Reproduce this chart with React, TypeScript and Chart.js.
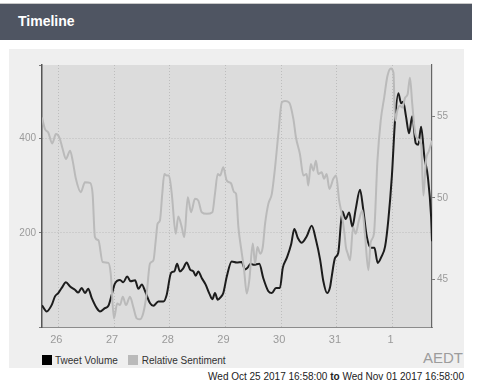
import React, { useEffect, useRef } from "react";
import { Chart, registerables } from "chart.js";

Chart.register(...registerables);

// x values are hours since Wed Oct 25 2017 16:58:00 (AEDT)
const RANGE_HOURS = 168;
const FIRST_MIDNIGHT_H = 7 + 2 / 60;
const dayLabels = ["26", "27", "28", "29", "30", "31", "1"];

const volumeHours = [
  0, 2.0, 4.2, 5.6, 7.0, 8.5, 10.3, 12.1, 14.2, 15.6,
  17.1, 18.5, 19.9, 21.4, 23.6, 25.0, 27.1, 28.6, 30.0, 31.4,
  33.6, 35.0, 36.7, 38.2, 40.1, 41.5, 43.0, 44.4, 46.5, 48.0,
  50.1, 52.3, 53.7, 55.6, 57.0, 58.2, 59.4, 60.9, 62.3, 63.8,
  65.2, 66.2, 67.3, 68.8, 70.5, 72.0, 73.4, 74.5, 75.7, 77.1,
  78.1, 79.6, 81.7, 83.9, 86.0, 87.5, 88.4, 89.9, 91.3, 93.6,
  95.3, 97.5, 99.0, 100.8, 102.5, 103.7, 105.4, 107.3, 108.7, 110.2,
  111.9, 114.0, 116.2, 118.0, 119.8, 121.2, 122.8, 124.1, 124.8, 126.2,
  127.6, 129.4, 130.8, 132.3, 133.7, 135.1, 137.0, 138.4, 139.9, 141.7,
  143.2, 144.6, 146.3, 147.8, 149.2, 150.7, 152.1, 153.5, 154.7, 155.6,
  156.8, 158.1, 159.5, 161.0, 162.1, 163.3, 164.7, 166.2, 167.6, 168.0,
];
const tweetVolume = [
  46, 33, 47, 65, 72, 83, 95, 86, 79, 73,
  83, 72, 81, 62, 40, 33, 40, 45, 68, 92,
  100, 95, 107, 97, 99, 81, 90, 76, 51, 45,
  54, 54, 68, 115, 118, 134, 118, 125, 137, 122,
  118, 109, 118, 104, 90, 72, 59, 72, 58, 64,
  72, 107, 139, 137, 138, 122, 125, 134, 132, 134,
  104, 76, 72, 83, 83, 125, 146, 175, 208, 189,
  179, 192, 215, 185, 143, 97, 72, 85, 107, 146,
  157, 245, 229, 243, 213, 249, 291, 249, 192, 168,
  168, 136, 150, 171, 228, 319, 440, 496, 475, 478,
  447, 411, 447, 390, 387, 425, 362, 319, 235, 182,
];

const sentimentHours = [
  0, 1.3, 2.7, 4.4, 6.0, 7.5, 8.9, 10.3, 12.1, 13.2,
  14.6, 16.7, 18.5, 20.7, 21.8, 22.8, 24.3, 26.1, 28.6, 29.6,
  31.0, 32.4, 33.6, 34.8, 36.2, 37.9, 39.3, 40.8, 42.2, 43.6,
  45.1, 46.5, 48.0, 49.0, 49.8, 50.8, 51.8, 52.7, 53.7, 54.7,
  55.9, 57.6, 58.7, 60.2, 61.3, 62.8, 64.2, 65.9, 67.3, 68.8,
  71.0, 73.4, 74.5, 75.7, 76.7, 78.1, 79.6, 81.4, 82.8, 83.6,
  84.6, 86.0, 87.0, 88.2, 89.3, 90.8, 91.8, 92.8, 94.0, 95.1,
  96.1, 97.5, 99.0, 100.4, 101.8, 103.3, 104.7, 106.5, 108.3, 109.4,
  111.1, 112.6, 114.0, 114.7, 115.8, 116.9, 118.0, 119.0, 120.5, 121.5,
  122.6, 123.8, 125.5, 126.7, 128.0, 129.1, 130.3, 130.9, 131.7, 132.7,
  134.0, 135.1, 136.5, 138.0, 139.1, 140.6, 141.6, 143.0, 144.5, 145.9,
  147.4, 148.8, 150.3, 151.4, 152.1, 153.2, 154.2, 155.2, 156.4, 157.5,
  158.5, 159.5, 160.7, 162.1, 163.3, 164.3, 165.4, 166.7, 168.0,
];
const relativeSentiment = [
  54.94, 54.23, 54.02, 53.35, 53.92, 53.71, 53.0, 52.39, 52.9, 52.29,
  51.17, 50.35, 50.96, 50.92, 50.25, 47.59, 47.39, 46.06, 46.0, 45.35,
  42.59, 43.51, 43.41, 43.92, 43.41, 43.92, 43.3, 42.59, 42.53, 42.9,
  44.12, 45.96, 46.16, 47.39, 48.41, 48.61, 50.25, 51.47, 51.37, 51.37,
  50.25, 47.8, 48.86, 48.2, 47.59, 50.04, 49.12, 49.94, 49.84, 49.12,
  49.02, 49.12, 50.25, 51.47, 51.37, 51.88, 51.06, 50.9, 50.35, 50.25,
  48.2, 46.67, 45.65, 44.12, 44.94, 47.19, 45.96, 46.98, 46.57, 46.98,
  48.41, 49.63, 50.25, 51.88, 53.92, 55.86, 55.96, 55.86, 54.84, 53.71,
  52.7, 51.37, 51.47, 50.76, 52.08, 51.67, 52.29, 51.47, 51.57, 51.17,
  51.47, 50.55, 51.17, 51.37, 49.84, 49.02, 47.8, 46.98, 46.57, 46.16,
  48.2, 47.8, 48.61, 49.22, 47.8, 45.55, 47.28, 47.8, 52.29, 54.74,
  56.16, 57.49, 57.96, 57.69, 54.74, 55.45, 55.66, 55.55, 56.16, 56.37,
  57.39, 55.76, 54.02, 53.61, 53.31, 50.14, 52.29, 52.9, 53.51,
];

const volumeTicks = [0, 200, 400];
const volumeMax = 556;
const sentimentTicks = [45, 50, 55];
const sentimentMin = 42.06;
const sentimentMax = 58.17;

const FONT = '"Liberation Sans", Arial, Helvetica, sans-serif';

const plotBg = {
  id: "plotBg",
  beforeDraw(chart: any) {
    const { ctx, chartArea } = chart;
    if (!chartArea) return;
    ctx.save();
    ctx.fillStyle = "#dcdcdc";
    ctx.fillRect(chartArea.left, chartArea.top, chartArea.right - chartArea.left, chartArea.bottom - chartArea.top);
    ctx.restore();
  },
};

export default function App() {
  const ref = useRef<HTMLCanvasElement | null>(null);

  useEffect(() => {
    if (!ref.current) return;
    const chart = new Chart(ref.current, {
      type: "line",
      data: {
        datasets: [
          {
            label: "Relative Sentiment",
            data: sentimentHours.map((h, i) => ({ x: h, y: relativeSentiment[i] })),
            borderColor: "#bababa",
            backgroundColor: "#bababa",
            borderWidth: 2,
            pointRadius: 0,
            cubicInterpolationMode: "monotone",
            yAxisID: "y1",
          },
          {
            label: "Tweet Volume",
            data: volumeHours.map((h, i) => ({ x: h, y: tweetVolume[i] })),
            borderColor: "#1c1c1c",
            backgroundColor: "#000",
            borderWidth: 2,
            pointRadius: 0,
            cubicInterpolationMode: "monotone",
            yAxisID: "y",
          },
        ],
      },
      options: {
        animation: false,
        responsive: false,
        devicePixelRatio: 1,
        layout: { padding: { top: 16, left: 0, right: 0, bottom: 0 } },
        plugins: { legend: { display: false }, tooltip: { enabled: false } },
        scales: {
          x: {
            type: "linear",
            min: 0,
            max: RANGE_HOURS,
            afterBuildTicks: (s: any) => {
              s.ticks = dayLabels.map((_, i) => ({ value: FIRST_MIDNIGHT_H + 24 * i }));
            },
            afterFit: (s: any) => {
              s.height = 22;
            },
            ticks: {
              autoSkip: false,
              maxRotation: 0,
              padding: 6,
              labelOffset: -2,
              color: "#9a9a9a",
              font: { family: FONT, size: 11 },
              callback: (_v: any, i: number) => dayLabels[i],
            },
            grid: { color: "#bdbdbd", drawTicks: false, lineWidth: 1 },
            border: { display: true, color: "#8c8c8c", width: 1, dash: [1, 2] },
          },
          y: {
            position: "left",
            min: 0,
            max: volumeMax,
            afterBuildTicks: (s: any) => {
              s.ticks = [...volumeTicks, volumeMax].map((v) => ({ value: v }));
            },
            afterFit: (s: any) => {
              s.width = 33;
            },
            ticks: {
              padding: 3,
              color: "#9a9a9a",
              font: { family: FONT, size: 10 },
              callback: (v: any) => (v > 0 && volumeTicks.includes(v) ? String(v) : ""),
            },
            grid: {
              color: (c: any) => (c.tick && c.tick.value > 0 && volumeTicks.includes(c.tick.value) ? "#bdbdbd" : "rgba(0,0,0,0)"),
              tickColor: "#7a7a7a",
              tickLength: 3,
              lineWidth: 1,
            },
            border: { display: true, color: "#555", width: 1.5, dash: [1, 2] },
          },
          y1: {
            position: "right",
            min: sentimentMin,
            max: sentimentMax,
            afterBuildTicks: (s: any) => {
              s.ticks = sentimentTicks.map((v) => ({ value: v }));
            },
            afterFit: (s: any) => {
              s.width = 32;
            },
            ticks: {
              padding: 2,
              color: "#9a9a9a",
              font: { family: FONT, size: 10 },
              callback: (v: any) => String(v),
            },
            grid: { drawOnChartArea: false, tickColor: "#7a7a7a", tickLength: 3 },
            border: { display: true, color: "#666", width: 1.2 },
          },
        },
      },
      plugins: [plotBg],
    });
    return () => chart.destroy();
  }, []);

  return (
    <div style={{ position: "absolute", left: 0, top: 0, width: 480, height: 390, background: "#fff", fontFamily: FONT }}>
      <div style={{ position: "absolute", left: 0, top: 3, width: 472, height: 1, background: "#c8c8c8" }} />
      <div style={{ position: "absolute", left: 0, top: 4, width: 472, height: 36, background: "#4f5562" }} />
      <div
        style={{ position: "absolute", left: 18, top: 14, fontSize: 14, lineHeight: "14px", fontWeight: "bold", color: "#fff", whiteSpace: "nowrap" }}
      >
        Timeline
      </div>
      <div style={{ position: "absolute", left: 9, top: 49, width: 455, height: 319, background: "#efefef" }}>
        <canvas ref={ref} width={455} height={300} style={{ display: "block", width: 455, height: 300 }} />
      </div>
      <div style={{ position: "absolute", left: 42, top: 355, width: 10, height: 10, background: "#000" }} />
      <div style={{ position: "absolute", left: 55, top: 355.7, fontSize: 10, lineHeight: "10px", color: "#333", whiteSpace: "nowrap" }}>
        Tweet Volume
      </div>
      <div style={{ position: "absolute", left: 128, top: 355, width: 10, height: 10, background: "#bababa" }} />
      <div style={{ position: "absolute", left: 141.7, top: 355.7, fontSize: 10, lineHeight: "10px", color: "#333", whiteSpace: "nowrap" }}>
        Relative Sentiment
      </div>
      <div style={{ position: "absolute", right: 480 - 463, top: 349.5, fontSize: 15, lineHeight: "15px", color: "#9c9c9c", whiteSpace: "nowrap" }}>
        AEDT
      </div>
      <div style={{ position: "absolute", right: 480 - 464, top: 371.7, fontSize: 10, lineHeight: "10px", color: "#222", whiteSpace: "nowrap" }}>
        Wed Oct 25 2017 16:58:00 <b>to</b> Wed Nov 01 2017 16:58:00
      </div>
    </div>
  );
}
